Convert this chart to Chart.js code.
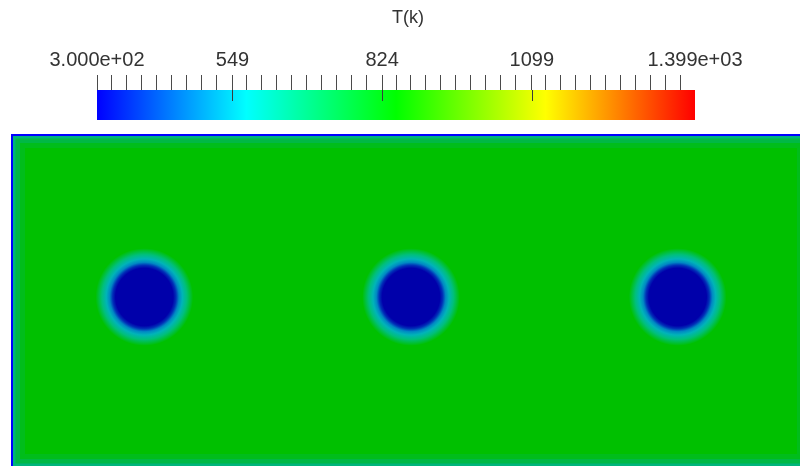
<!DOCTYPE html>
<html>
<head>
<meta charset="utf-8">
<title>T(k)</title>
<script src="https://cdn.jsdelivr.net/npm/chart.js@4.4.1/dist/chart.umd.min.js"></script>
<style>
  html, body { margin: 0; padding: 0; background: #fff; overflow: hidden; }
  #wrap { position: relative; width: 800px; height: 466px; overflow: hidden; }
  #colorBar { position: absolute; left: 0; top: 0; }
  #field { position: absolute; left: 0; top: 120px; }
</style>
</head>
<body>
<div id="wrap">
  <canvas id="colorBar" width="800" height="120"></canvas>
  <canvas id="field" width="811" height="350"></canvas>
</div>
<script>
(() => {
  'use strict'

  // Rango de temperatura (K) y etiquetas de la barra de colores
  const tMin = 300
  const tMax = 1399
  const tickValues = [300, 549, 824, 1099, 1399]
  const tickLabels = ['3.000e+02', '549', '824', '1099', '1.399e+03']
  const minorTickCount = 40

  // Mapa de colores (arcoiris azul -> rojo)
  const cmapStops = [0, 0.25, 0.5, 0.75, 1]
  const cmapColors = ['#0000ff', '#00ffff', '#00ff00', '#ffff00', '#ff0000']

  // Dominio (unidades de longitud) y agujeros fríos
  const domainX = [0, 3]
  const domainY = [0, 1.25]
  const holeX = [0.5, 1.5, 2.5]
  const holeY = [0.64, 0.64, 0.64]
  const holeRadius = 0.183

  // Colores sombreados del campo
  const fieldColor = '#00c000'
  const holeStops = [0, 0.59, 0.65, 0.71, 0.78, 0.87, 0.95, 1]
  const holeColors = ['#0000aa', '#0000aa', '#0030b8', '#0088c4', '#00b4b8', '#00bf7c', '#00c030', '#00c000']

  Chart.defaults.font.family = "'Liberation Sans', Arial, sans-serif"

  // Ticks menores + mayores
  const minorTicks = []
  for (let k = 0; k < minorTickCount; k++) {
    const v = tMin + k * (tMax - tMin) / minorTickCount
    if (!tickValues.some(t => Math.abs(t - v) < 8)) minorTicks.push(v)
  }
  const allTicks = minorTicks.concat(tickValues).sort((a, b) => a - b)

  function colorbarGradient(chart) {
    const area = chart.chartArea
    if (!area) return cmapColors[2]
    const xs = chart.scales.x
    const g = chart.ctx.createLinearGradient(xs.getPixelForValue(tMin), 0, xs.getPixelForValue(tMax), 0)
    cmapStops.forEach((s, i) => g.addColorStop(s, cmapColors[i]))
    return g
  }

  // Ticks mayores que entran en la barra
  const majorTicksPlugin = {
    id: 'majorTicks',
    afterDatasetsDraw(chart) {
      const { ctx, chartArea } = chart
      const xs = chart.scales.x
      ctx.save()
      ctx.strokeStyle = '#3a3a3a'
      ctx.lineWidth = 1
      tickValues.slice(1, -1).forEach(v => {
        const x = Math.round(xs.getPixelForValue(v)) + 0.5
        ctx.beginPath()
        ctx.moveTo(x, chartArea.top)
        ctx.lineTo(x, chartArea.top + 11)
        ctx.stroke()
      })
      ctx.restore()
    }
  }

  // Título de la barra (ligeramente desplazado como en ParaView)
  const captionPlugin = {
    id: 'caption',
    afterDraw(chart, args, opts) {
      const { ctx, chartArea } = chart
      ctx.save()
      ctx.font = '18px ' + Chart.defaults.font.family
      ctx.fillStyle = opts.color
      ctx.textAlign = 'center'
      ctx.textBaseline = 'middle'
      ctx.fillText(opts.text, (chartArea.left + chartArea.right) / 2 + opts.offsetX, opts.y)
      ctx.restore()
    }
  }

  new Chart(document.getElementById('colorBar'), {
    type: 'bar',
    data: {
      labels: ['T(k)'],
      datasets: [{
        data: [[tMin, tMax]],
        backgroundColor: (c) => colorbarGradient(c.chart),
        borderWidth: 0,
        barPercentage: 1,
        categoryPercentage: 1
      }]
    },
    options: {
      indexAxis: 'y',
      responsive: false,
      animation: false,
      events: [],
      layout: { padding: { left: 97, right: 105, top: 0, bottom: 0 } },
      plugins: {
        legend: { display: false },
        tooltip: { enabled: false },
        caption: { text: 'T(k)', offsetX: 12, y: 18, color: '#333' }
      },
      scales: {
        y: { display: false },
        x: {
          type: 'linear',
          position: 'top',
          min: tMin,
          max: tMax,
          afterBuildTicks: (scale) => { scale.ticks = allTicks.map(v => ({ value: v })) },
          afterFit: (scale) => { scale.height = 90 },
          border: { display: false },
          grid: {
            drawOnChartArea: false,
            tickLength: 15,
            tickColor: (c) => (c.tick && c.tick.value === tMax) ? 'rgba(0,0,0,0)' : '#4a4a4a'
          },
          ticks: {
            autoSkip: false,
            maxRotation: 0,
            padding: 3,
            color: '#333',
            font: { size: 20 },
            callback: (v) => {
              const i = tickValues.indexOf(v)
              return i >= 0 ? tickLabels[i] : ''
            }
          }
        }
      }
    },
    plugins: [majorTicksPlugin, captionPlugin]
  })

  // Contorno del dominio
  const outline = [
    { x: domainX[0], y: domainY[0] },
    { x: domainX[0], y: domainY[1] },
    { x: domainX[1], y: domainY[1] },
    { x: domainX[1], y: domainY[0] },
    { x: domainX[0], y: domainY[0] }
  ]
  const edge = (width, color, order) => ({
    type: 'line',
    data: outline,
    borderColor: color,
    borderWidth: width,
    borderJoinStyle: 'miter',
    pointRadius: 0,
    fill: false,
    clip: 0,
    order
  })

  const holePx = (chart) => chart.scales.x.getPixelForValue(holeRadius) - chart.scales.x.getPixelForValue(0)

  function holeGradient(c) {
    const chart = c.chart
    if (!chart.chartArea || !c.raw) return holeColors[0]
    const xs = chart.scales.x
    const ys = chart.scales.y
    const cx = xs.getPixelForValue(c.raw.x)
    const cy = ys.getPixelForValue(c.raw.y)
    const g = chart.ctx.createRadialGradient(cx, cy, 0, cx, cy, holePx(chart))
    holeStops.forEach((s, i) => g.addColorStop(s, holeColors[i]))
    return g
  }

  new Chart(document.getElementById('field'), {
    type: 'scatter',
    data: {
      datasets: [
        {
          type: 'line',
          data: [{ x: domainX[0], y: domainY[1] }, { x: domainX[1], y: domainY[1] }],
          backgroundColor: fieldColor,
          borderWidth: 0,
          pointRadius: 0,
          fill: 'start',
          clip: 0,
          order: 10
        },
        edge(28, 'rgba(0,176,150,0.18)', 9),
        edge(18, 'rgba(0,176,150,0.35)', 8),
        edge(9, 'rgba(0,176,160,0.6)', 7),
        {
          type: 'scatter',
          data: holeX.map((x, i) => ({ x, y: holeY[i] })),
          pointStyle: 'circle',
          pointRadius: (c) => holePx(c.chart),
          pointBackgroundColor: holeGradient,
          pointBorderWidth: 0,
          pointBorderColor: 'rgba(0,0,0,0)',
          showLine: false,
          clip: 0,
          order: 2
        },
        edge(4, '#0000ff', 1)
      ]
    },
    options: {
      responsive: false,
      animation: false,
      events: [],
      layout: { padding: { left: 11, top: 14, right: 0, bottom: 2 } },
      plugins: { legend: { display: false }, tooltip: { enabled: false } },
      scales: {
        x: { type: 'linear', min: domainX[0], max: domainX[1], display: false },
        y: { type: 'linear', min: domainY[0], max: domainY[1], display: false }
      }
    }
  })
})()
</script>
</body>
</html>
